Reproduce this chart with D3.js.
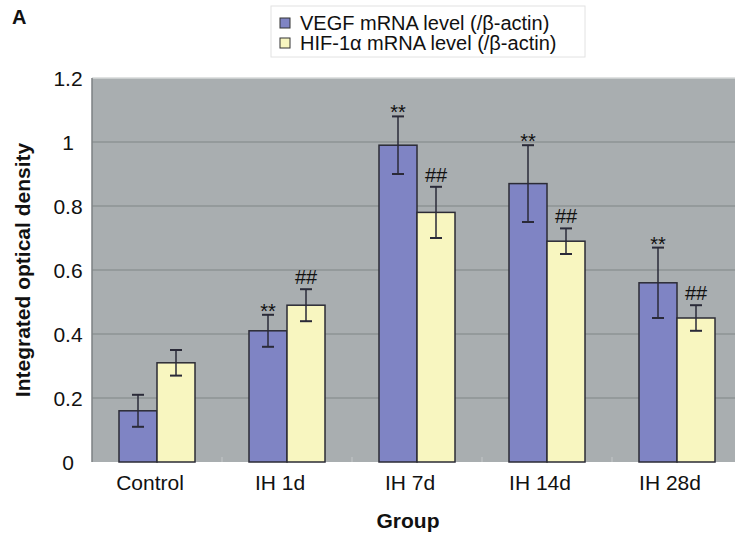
<!DOCTYPE html>
<html>
<head>
<meta charset="utf-8">
<script src="https://cdn.jsdelivr.net/npm/d3@7"></script>
<style>
  body { margin: 0; background: #fff; }
  text { font-family: "Liberation Sans", Arial, sans-serif; fill: #111; }
</style>
</head>
<body>
<div id="chart"></div>
<script>
// data
const groups = ['Control', 'IH 1d', 'IH 7d', 'IH 14d', 'IH 28d'];
const series = ['VEGF mRNA level (/β-actin)', 'HIF-1α mRNA level (/β-actin)'];
const vegfValues = [0.16, 0.41, 0.99, 0.87, 0.56];
const vegfErrors = [0.05, 0.05, 0.09, 0.12, 0.11];
const hifValues = [0.31, 0.49, 0.78, 0.69, 0.45];
const hifErrors = [0.04, 0.05, 0.08, 0.04, 0.04];
const vegfMarks = ['', '**', '**', '**', '**'];
const hifMarks = ['', '##', '##', '##', '##'];
const yTicks = [0, 0.2, 0.4, 0.6, 0.8, 1, 1.2];

const colors = ['#7f84c4', '#f8f6c0'];

const width = 735, height = 535;
const margin = {top: 78, right: -7, bottom: 73, left: 92};

const svg = d3.select('#chart').append('svg')
    .attr('width', width)
    .attr('height', height);

const x = d3.scaleBand()
    .domain(groups)
    .range([margin.left, width - margin.right])
    .padding(0);

const barW = 38;
const xInner = d3.scaleBand()
    .domain([0, 1])
    .range([x.bandwidth() / 2 - barW, x.bandwidth() / 2 + barW]);

const y = d3.scaleLinear()
    .domain([0, 1.2])
    .range([height - margin.bottom, margin.top]);

// plot background
svg.append('rect')
    .attr('x', margin.left)
    .attr('y', margin.top)
    .attr('width', width - margin.right - margin.left)
    .attr('height', y(0) - margin.top)
    .attr('fill', '#a9aeb0');

// gridlines
svg.append('g')
    .selectAll('line')
    .data(yTicks.slice(1, -1))
    .join('line')
    .attr('x1', margin.left)
    .attr('x2', width - margin.right)
    .attr('y1', d => y(d))
    .attr('y2', d => y(d))
    .attr('stroke', '#8e9395')
    .attr('stroke-width', 1.5);

// top highlight and left edge
svg.append('line')
    .attr('x1', margin.left).attr('x2', width)
    .attr('y1', margin.top).attr('y2', margin.top)
    .attr('stroke', '#d6d8d9').attr('stroke-width', 1.5);
svg.append('line')
    .attr('x1', margin.left).attr('x2', margin.left)
    .attr('y1', margin.top).attr('y2', y(0))
    .attr('stroke', '#7c8183').attr('stroke-width', 1.5);

// y axis labels (centred, like the original)
const yAxis = d3.axisLeft(y)
    .tickValues(yTicks)
    .tickSize(0)
    .tickPadding(0)
    .tickFormat(d3.format('~g'));

svg.append('g')
    .attr('transform', 'translate(68,0)')
    .call(yAxis)
    .call(g => g.select('.domain').remove())
    .selectAll('text')
    .attr('text-anchor', 'middle')
    .attr('dy', '0.38em')
    .style('font-size', '21px')
    .attr('fill', '#111');

// x axis
const xAxis = d3.axisBottom(x).tickSize(0).tickPadding(13);
svg.append('g')
    .attr('transform', `translate(0,${y(0)})`)
    .call(xAxis)
    .call(g => g.select('.domain').remove())
    .selectAll('text')
    .attr('dx', -7)
    .style('font-size', '21px')
    .attr('fill', '#111');

// small tick marks at band boundaries
svg.append('g')
    .selectAll('line')
    .data(groups.slice(1))
    .join('line')
    .attr('x1', d => x(d))
    .attr('x2', d => x(d))
    .attr('y1', y(0))
    .attr('y2', y(0) - 5)
    .attr('stroke', '#c4c7c8')
    .attr('stroke-width', 1);

// bars
const rows = groups.map((g, i) => ({
    group: g,
    items: [
        {s: 0, value: vegfValues[i], err: vegfErrors[i], mark: vegfMarks[i]},
        {s: 1, value: hifValues[i], err: hifErrors[i], mark: hifMarks[i]}
    ]
}));

const groupG = svg.append('g')
    .selectAll('g')
    .data(rows)
    .join('g')
    .attr('transform', d => `translate(${x(d.group)},0)`);

const item = groupG.selectAll('g')
    .data(d => d.items)
    .join('g');

item.append('rect')
    .attr('x', d => xInner(d.s))
    .attr('width', xInner.bandwidth())
    .attr('y', d => y(d.value))
    .attr('height', d => y(0) - y(d.value))
    .attr('fill', d => colors[d.s])
    .attr('stroke', '#2b2b35')
    .attr('stroke-width', 1.5);

// error bars
const cx = d => xInner(d.s) + xInner.bandwidth() / 2;
item.append('line')
    .attr('x1', cx).attr('x2', cx)
    .attr('y1', d => y(d.value + d.err))
    .attr('y2', d => y(d.value - d.err))
    .attr('stroke', '#2a2a38')
    .attr('stroke-width', 1.5);
item.selectAll('.cap')
    .data(d => [d.value + d.err, d.value - d.err].map(v => ({v, c: cx(d)})))
    .join('line')
    .attr('class', 'cap')
    .attr('x1', d => d.c - 6).attr('x2', d => d.c + 6)
    .attr('y1', d => y(d.v)).attr('y2', d => y(d.v))
    .attr('stroke', '#2a2a38')
    .attr('stroke-width', 2);

// significance marks
item.append('text')
    .attr('x', cx)
    .attr('y', d => y(d.value + d.err) + (d.s === 0 ? 3 : -5))
    .attr('text-anchor', 'middle')
    .style('font-size', '20px')
    .text(d => d.mark);

// axis titles
svg.append('text')
    .attr('transform', `translate(30,${(margin.top + y(0)) / 2}) rotate(-90)`)
    .attr('text-anchor', 'middle')
    .style('font-size', '21px')
    .style('font-weight', 'bold')
    .text('Integrated optical density');

svg.append('text')
    .attr('x', 408)
    .attr('y', 528)
    .attr('text-anchor', 'middle')
    .style('font-size', '21px')
    .style('font-weight', 'bold')
    .text('Group');

// panel letter
svg.append('text')
    .attr('x', 12)
    .attr('y', 24)
    .style('font-size', '20px')
    .style('font-weight', 'bold')
    .text('A');

// legend
const legend = svg.append('g').attr('transform', 'translate(271,6)');
legend.append('rect')
    .attr('width', 314).attr('height', 51)
    .attr('fill', '#fff')
    .attr('stroke', '#e2e2e2');
const legItem = legend.selectAll('.leg')
    .data(series)
    .join('g')
    .attr('class', 'leg')
    .attr('transform', (d, i) => `translate(9,${12 + i * 20})`);
legItem.append('rect')
    .attr('width', 10).attr('height', 10)
    .attr('fill', (d, i) => colors[i])
    .attr('stroke', '#333');
legItem.append('text')
    .attr('x', 20)
    .attr('y', 12)
    .style('font-size', '20px')
    .text(d => d);
</script>
</body>
</html>
